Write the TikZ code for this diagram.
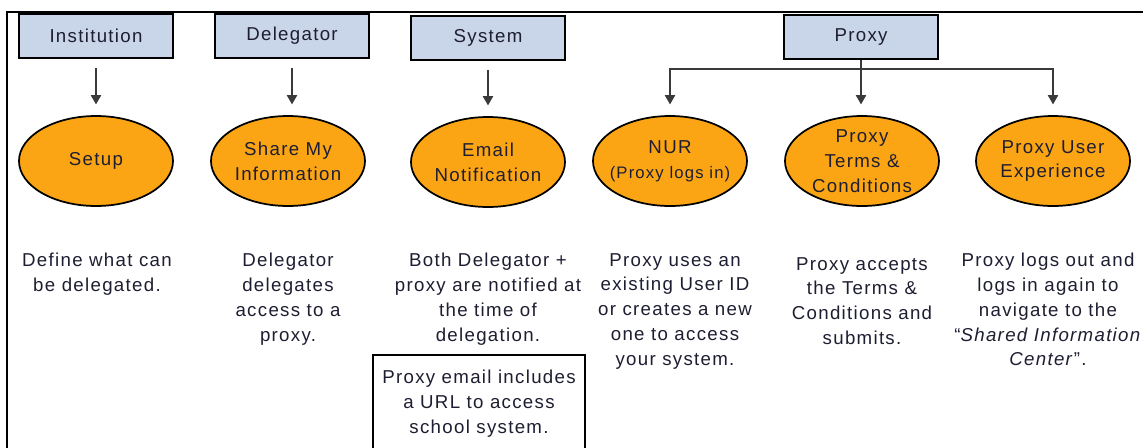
\documentclass[tikz,border=0pt]{standalone}
\usepackage{fontspec}
\setmainfont[LetterSpace=7]{Liberation Sans}
\usetikzlibrary{positioning,arrows.meta,shapes.geometric}
\definecolor{ink}{HTML}{1E1E32}
\definecolor{rolefill}{HTML}{C9D6EA}
\definecolor{stepfill}{HTML}{FBA515}
\definecolor{wire}{HTML}{3A3A3A}
\tikzset{
  rolebox/.style={draw=black,fill=rolefill,line width=1.6pt,minimum width=115.5pt,minimum height=33.5pt,inner sep=0pt,text=ink},
  stepoval/.style={ellipse,draw=black,fill=stepfill,line width=1.3pt,minimum width=115.5pt,minimum height=67.5pt,inner xsep=-14pt,inner ysep=-4pt,align=center,text=ink},
  note/.style={anchor=north,align=center,inner sep=0pt,text=ink},
  flow/.style={-{Triangle[length=7pt,width=7.5pt]},draw=wire,line width=1.5pt,shorten >=8pt,shorten <=6.5pt},
  bus/.style={-{Triangle[length=7pt,width=7.5pt]},draw=wire,line width=1.5pt,shorten >=8pt}}

\begin{document}
\begin{tikzpicture}[x=0.75pt,y=-0.75pt,font=\fontsize{14}{18.6}\selectfont]
  \clip (0,0) rectangle (1143,447);
  \fill[white] (0,0) rectangle (1143,447);
  \draw[black,line width=1.5pt] (7,12) rectangle (1160,470);
  % role boxes
  \node[rolebox] (inst) at (96,36) {Institution};
  \node[rolebox] (dele) at (292,36) {Delegator};
  \node[rolebox] (syst) at (488,38) {System};
  \node[rolebox] (prox) at (861,37) {Proxy};
  % steps
  \node[stepoval] (setup) at (96,161) {Setup};
  \node[stepoval] (share) at (288,161) {Share My\\Information};
  \node[stepoval] (email) at (488,162) {Email\\Notification};
  \node[stepoval] (nur) at (670,161) {NUR\\{\fontsize{12.5}{18.6}\selectfont(Proxy logs in)}};
  \node[stepoval] (terms) at (862,161) {Proxy\\Terms \&\\Conditions};
  \node[stepoval] (ux) at (1053,161) {Proxy User\\Experience};
  \draw[flow] (inst.south) -- (setup.north);
  \draw[flow] (dele.south) -- (dele.south |- share.north);
  \draw[flow] (syst.south) -- (email.north);
  \draw[bus] (prox.south) -- ++(0,9) -| (nur.north);
  \draw[bus] (prox.south) -- (prox.south |- terms.north);
  \draw[bus] (prox.south) -- ++(0,9) -| (ux.north);
  % descriptions
  \node[note] (d1) at (97,253) {Define what can\\be delegated.};
  \node[note] (d2) at (288,253) {Delegator\\delegates\\access to a\\proxy.};
  \node[note] (d3) at (488,253) {Both Delegator +\\proxy are notified at\\the time of\\delegation.};
  \node[note] (d4) at (675,253) {Proxy uses an\\existing User ID\\or creates a new\\one to access\\your system.};
  \node[note] (d5) at (862,257) {Proxy accepts\\the Terms \&\\Conditions and\\submits.};
  \node[note] (d6) at (1048,253) {Proxy logs out and\\logs in again to\\navigate to the\\“\textit{Shared Information}\\\textit{Center}”.};
  \node[draw=black,line width=1.5pt,minimum width=159pt,minimum height=90pt,anchor=north west,inner sep=0pt] (url) at (372,354) {};
  \node[note] (d7) at (479,370) {Proxy email includes\\a URL to access\\school system.};
\end{tikzpicture}
\end{document}
